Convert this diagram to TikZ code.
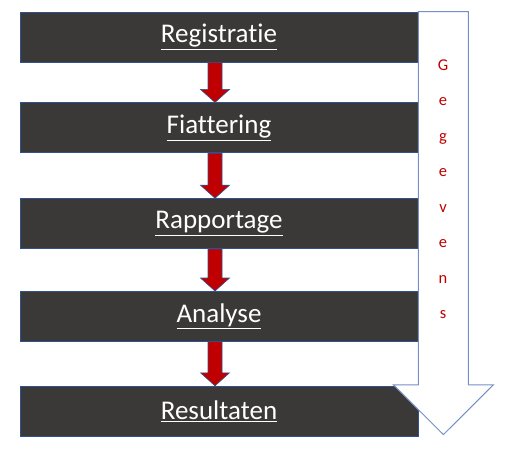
\documentclass[tikz,border=0pt]{standalone}
\usepackage{fontspec}
\setmainfont{Carlito}[Ligatures={NoCommon}]
\usepackage{xcolor}
\usepackage{tikz}
\usetikzlibrary{positioning, calc}

\definecolor{stapgrijs}{HTML}{3B3838}
\definecolor{randblauw}{HTML}{2F528F}
\definecolor{pijlrood}{HTML}{C00000}
\definecolor{stroomblauw}{HTML}{7590C7}

\begin{document}
\begin{tikzpicture}[
    x=1pt, y=1pt,
    stapbox/.style={rectangle, draw=randblauw, line width=0.8pt, fill=stapgrijs, minimum width=398pt, minimum height=50pt, text=white, font=\fontsize{27}{32}\selectfont},
    redarrow/.style={draw=randblauw, line width=0.6pt, fill=pijlrood},
    datastroom/.style={draw=stroomblauw, line width=1pt, fill=white},
    gegevenstekst/.style={text=pijlrood, align=center, font=\fontsize{16.5}{35.5}\selectfont}
]
\useasboundingbox (0,0) rectangle (510,-452);

\node[stapbox] (reg) at (219,-37) {\underline{Registratie}};
\node[stapbox, below=40pt of reg] (fiat) {\underline{Fiattering}};
\node[stapbox, below=45pt of fiat] (rap) {\underline{Rapportage}};
\node[stapbox, below=42pt of rap] (ana) {\underline{Analyse}};
\node[stapbox, below=44pt of ana] (res) {\underline{Resultaten}};

% rode pijlen tussen de stappen
\foreach \a/\b in {reg/fiat, fiat/rap, rap/ana, ana/res}
    \draw[redarrow] ($(\a.south)+(-11,0)$) -- ($(\a.south)+(3,0)$) -- ($(\b.north)+(3,13)$) -- ($(\b.north)+(10.5,13)$) -- ($(\b.north)+(-4,0)$) -- ($(\b.north)+(-18.5,13)$) -- ($(\b.north)+(-11,13)$) -- cycle;

% grote pijl met gegevens
\draw[datastroom] (reg.north east) -- ++(50,0) -- ($(res.north east)+(50,1)$) -- ++(25,0) -- ($(res.south east)+(25,2)$) -- ($(res.north east)+(-25,1)$) -- ++(25,0) -- cycle;
\node[gegevenstekst] (gegevens) at (443,-189) {G\\e\\g\\e\\v\\e\\n\\s};

\end{tikzpicture}
\end{document}
